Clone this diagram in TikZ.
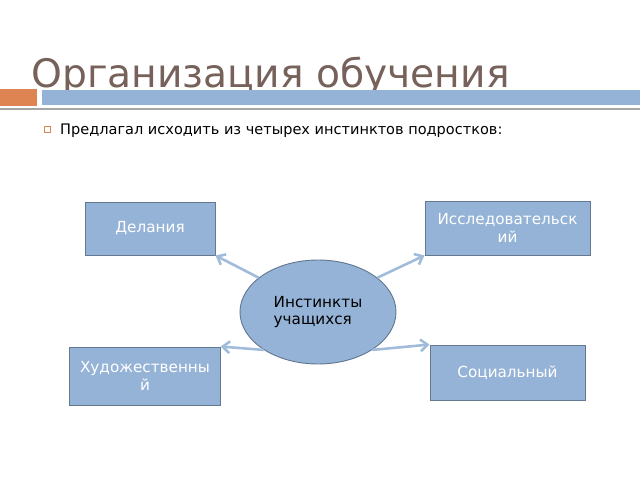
\documentclass[tikz,border=0pt]{standalone}
\usepackage{fontspec}
\setmainfont{DejaVu Sans}
\usetikzlibrary{shapes.geometric,arrows.meta}
\definecolor{boxblue}{RGB}{149,179,215}
\definecolor{boxline}{RGB}{100,120,145}
\definecolor{arrblue}{RGB}{160,188,218}
\definecolor{titlebrown}{RGB}{118,98,90}
\definecolor{barorange}{RGB}{221,132,82}
\tikzset{
  kind/.style={rectangle, draw=boxline, fill=boxblue, line width=0.8pt, align=center,
    text=white, font=\fontsize{13}{15}\selectfont, inner sep=1pt},
  link/.style={draw=arrblue, line width=2.2pt, -{Straight Barb[length=6pt,width=10pt]}}
}
\begin{document}
\begin{tikzpicture}[x=0.03cm, y=-0.03cm]
	% page
	\useasboundingbox (0,0) rectangle (640,480);
	% header
	\node[anchor=base west, inner sep=0pt, text=titlebrown, font=\fontsize{33.5}{38}\selectfont] (title) at (31,88) {Организация обучения};
	\fill[barorange] (0,89) rectangle (37,106);
	\fill[boxblue] (42,90) rectangle (640,105);
	\fill[gray!70] (0,108) rectangle (640,110);
	\draw[barorange, line width=0.6pt] (44,126) rectangle (50,132);
	\node[anchor=base west, inner sep=0pt, font=\fontsize{12.4}{14}\selectfont] (intro) at (60,135) {Предлагал исходить из четырех инстинктов подростков:};
	% diagram
	\node[kind, minimum width=130*0.03cm, minimum height=53*0.03cm] (doing) at (150,228.5) {Делания};
	\node[kind, minimum width=165*0.03cm, minimum height=54*0.03cm, text width=160*0.03cm] (research) at (507.5,228) {Исследовательск\\ий};
	\node[kind, minimum width=150*0.03cm, minimum height=58*0.03cm, text width=148*0.03cm] (art) at (145,376) {Художественны\\й};
	\node[kind, minimum width=155*0.03cm, minimum height=55*0.03cm] (social) at (507.5,372.5) {Социальный};
	\node[ellipse, draw=boxline, fill=boxblue, line width=0.8pt, minimum width=156*0.03cm, minimum height=104*0.03cm,
	  align=left, font=\fontsize{13}{15}\selectfont] (core) at (318,312) {Инстинкты\\учащихся};
	\draw[link] (core.150) -- (doing.south east);
	\draw[link] (core.30) -- (research.south west);
	\draw[link] (core.215) -- (art.north east);
	\draw[link] (core.325) -- (social.north west);
\end{tikzpicture}
\end{document}
